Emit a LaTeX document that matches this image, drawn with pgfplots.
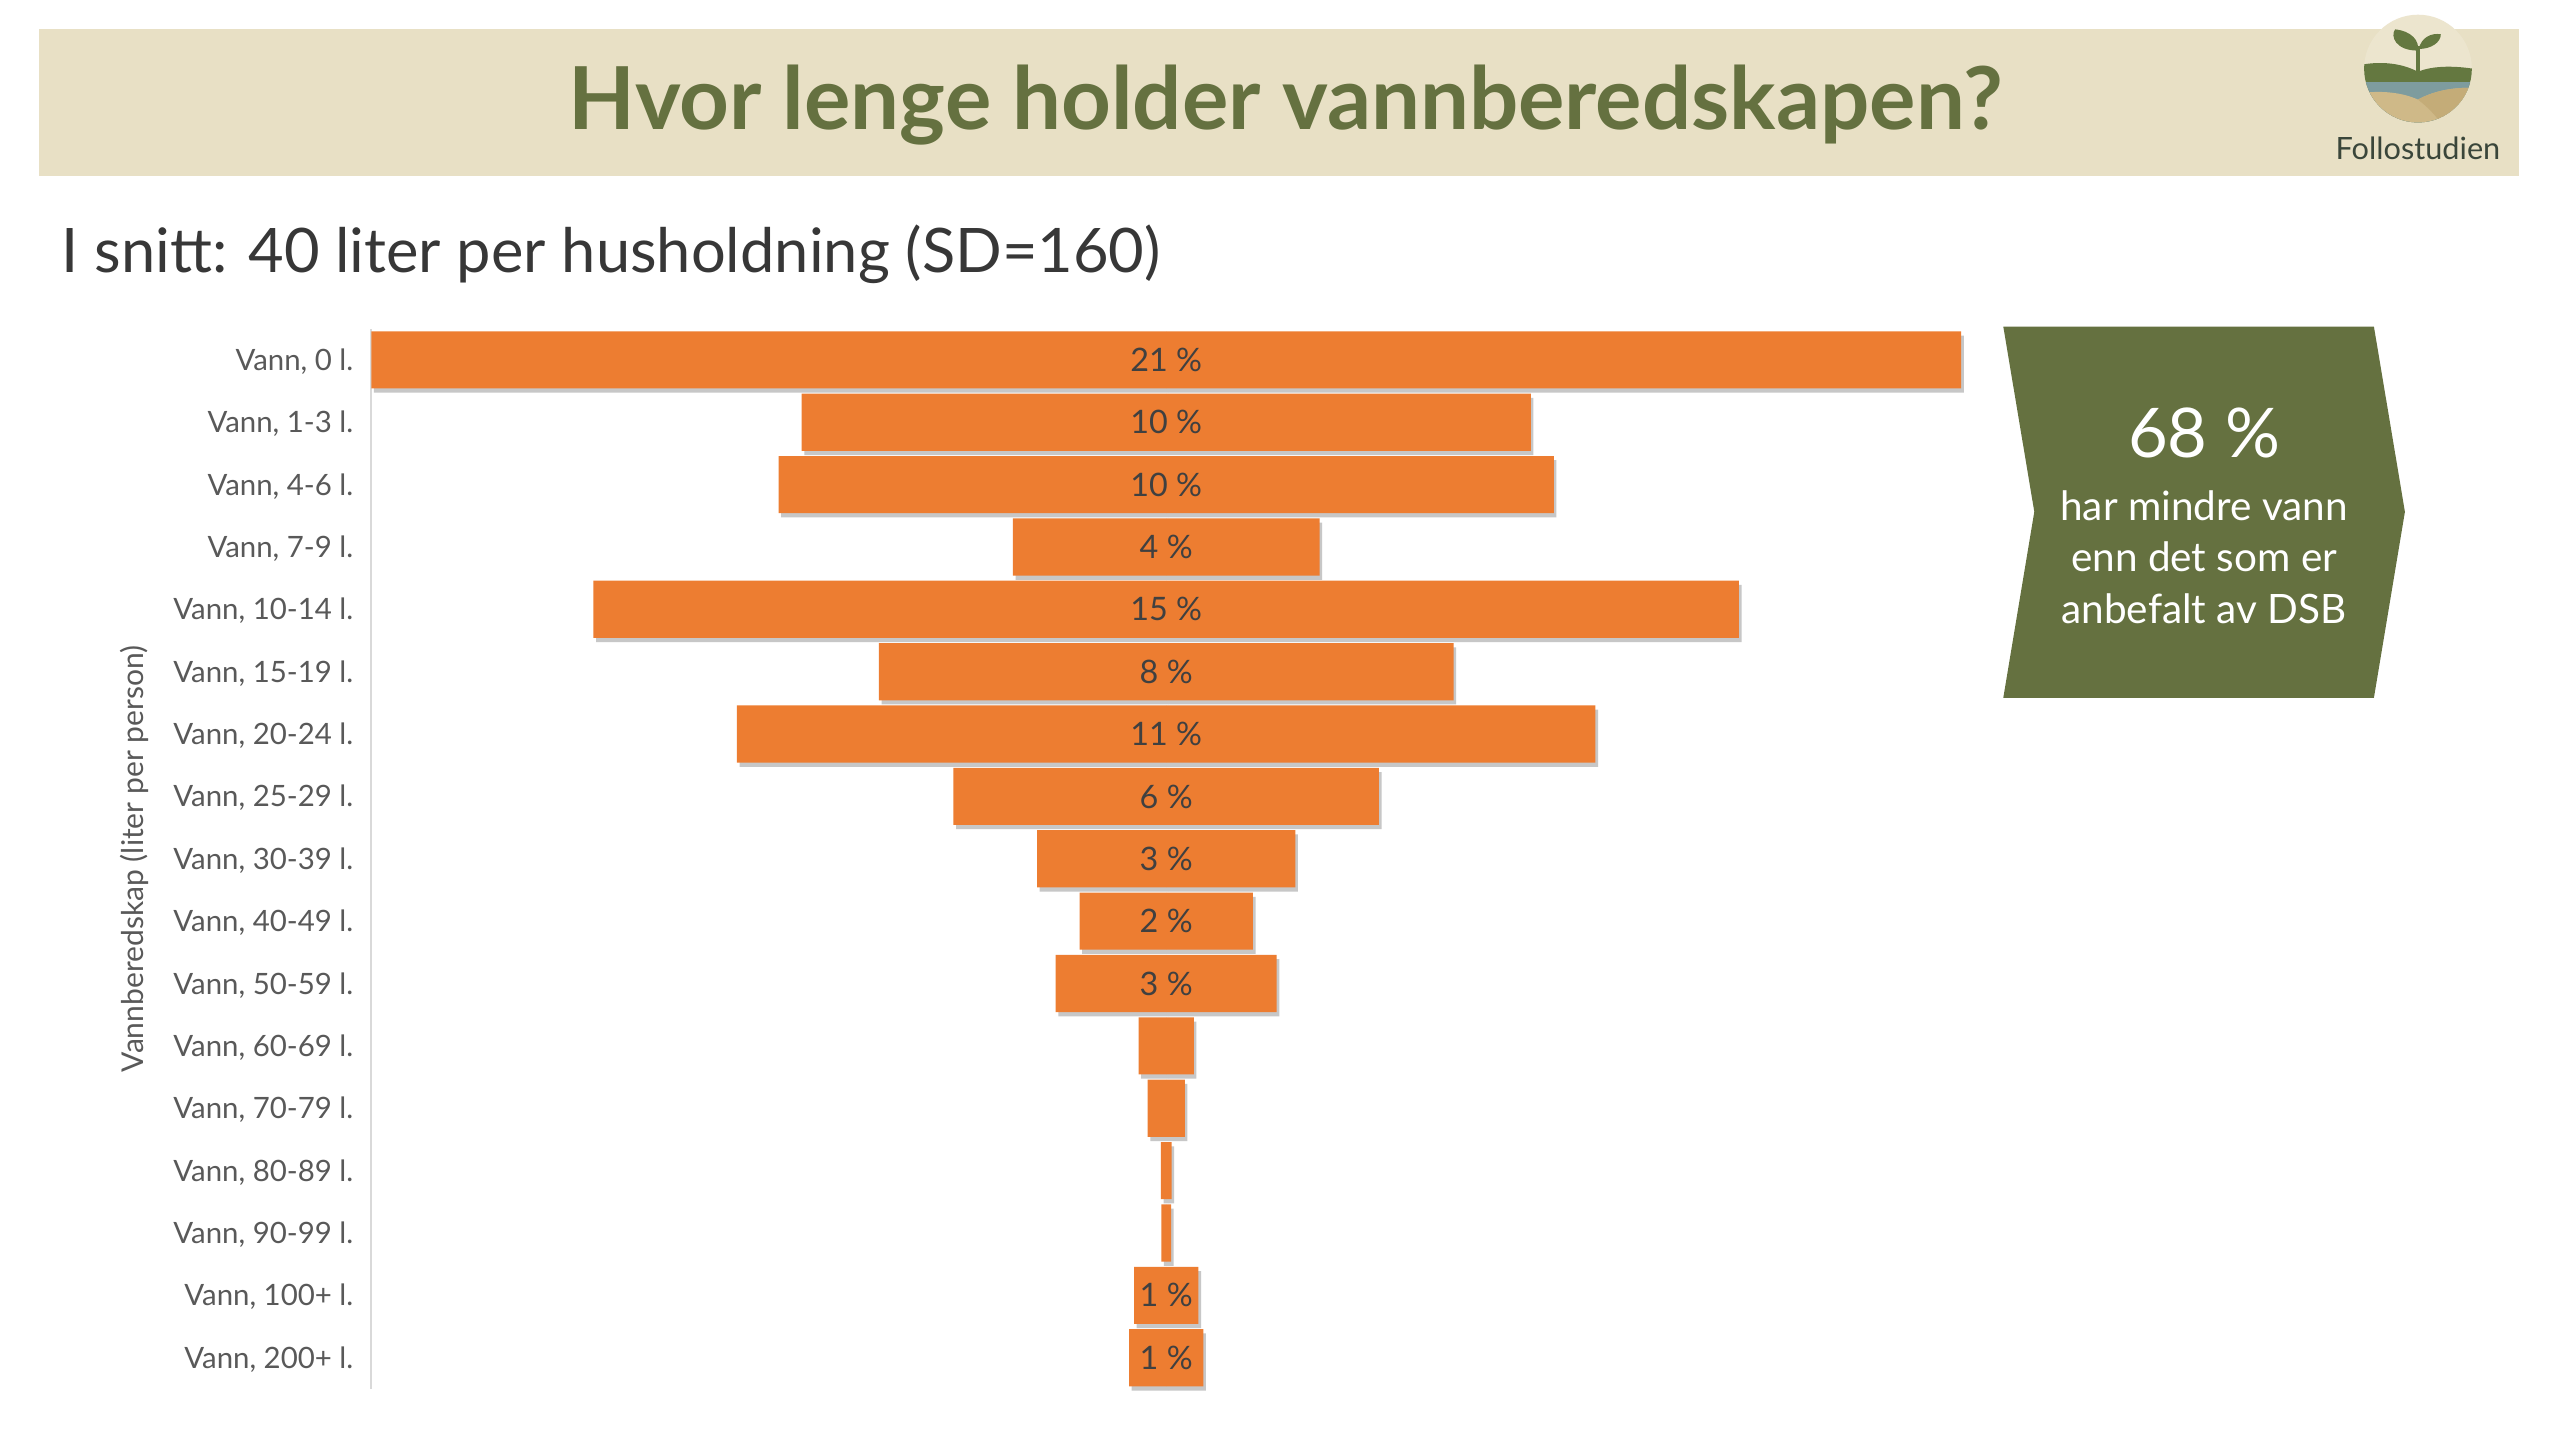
\documentclass[border=0pt]{standalone}
\usepackage{fontspec}
\setmainfont{Lato}
\usepackage{pgfplots}
\pgfplotsset{compat=1.18}
\usepackage{pgfplotstable}
\usetikzlibrary{shadows}
\definecolor{beige}{RGB}{232,224,197}
\definecolor{olive}{RGB}{101,113,64}
\definecolor{barorange}{RGB}{237,125,49}
\definecolor{lblgrey}{RGB}{89,89,89}
\definecolor{pctgrey}{RGB}{64,64,64}
\definecolor{subgrey}{RGB}{55,55,55}
\definecolor{logogreen}{RGB}{100,120,64}
\definecolor{logoblue}{RGB}{126,156,158}
\definecolor{logosand}{RGB}{207,185,136}
\definecolor{logosanddark}{RGB}{196,172,120}
\definecolor{logobg}{RGB}{236,229,206}
\definecolor{logotext}{RGB}{58,70,58}

\pgfplotstableread{
y v
16 21.00
15 9.63
14 10.24
13 4.05
12 15.13
11 7.59
10 11.34
9 5.62
8 3.41
7 2.29
6 2.92
5 0.73
4 0.49
3 0.14
2 0.13
1 0.85
0 0.98
}\bars

\pgfplotstableread{
y lab
16 21
15 10
14 10
13 4
12 15
11 8
10 11
9 6
8 3
7 2
6 3
1 1
0 1
}\labels

\begin{document}
\begin{tikzpicture}
\begin{scope}[x=0.5pt,y=-0.5pt]
\fill[white] (0,0) rectangle (1568,882);
\fill[beige] (24,18) rectangle (1543,107.8);
% logo
\fill[logobg] (1481,42) circle[radius=16.5pt];
\begin{scope}
\clip (1481,42) circle[radius=16.5pt];
\fill[logogreen] (1440,41) .. controls (1455,37) and (1470,38) .. (1481,44) .. controls (1490,40) and (1505,40) .. (1520,43) -- (1520,80) -- (1440,80) -- cycle;
\fill[logoblue] (1440,50) -- (1520,50) -- (1520,80) -- (1440,80) -- cycle;
\fill[logosand] (1440,58) .. controls (1455,55) and (1470,56) .. (1481,61) .. controls (1492,55) and (1505,53) .. (1520,54) -- (1520,80) -- (1440,80) -- cycle;
\fill[logosanddark] (1481,61) .. controls (1492,55) and (1505,53) .. (1520,54) -- (1520,80) -- (1498,80) .. controls (1492,70) and (1486,65) .. (1481,61) -- cycle;
\end{scope}
\draw[logogreen, line width=1.1pt] (1481,45) -- (1481,28);
\fill[logogreen] (1481,31) .. controls (1467,31) and (1464,22) .. (1467,18) .. controls (1477,19) and (1482,25) .. (1481,31) -- cycle;
\fill[logogreen] (1481.5,30) .. controls (1483,23) and (1489,20) .. (1495,21) .. controls (1495,26) and (1489,30) .. (1481.5,30) -- cycle;
\node[anchor=base, inner sep=0pt, text=logotext, font=\fontsize{9.4}{11}\selectfont] at (1481,98) {Follostudien};
% title
\node[anchor=base, inner sep=0pt, text=olive, font=\fontsize{26.6}{30}\selectfont\bfseries] at (787.5,79.6) {Hvor lenge holder vannberedskapen?};
\node[anchor=base west, inner sep=0pt, text=subgrey, font=\fontsize{18.8}{22}\selectfont] at (37.4,167) {I snitt: 40 liter per husholdning (SD=160)};
% box
\fill[olive] (1227,200) -- (1454,200) -- (1473,313.5) -- (1454,427.5) -- (1227,427.5) -- (1246,313.5) -- cycle;
\node[anchor=base, inner sep=0pt, text=white, font=\fontsize{21}{24}\selectfont] at (1350,280.5) {68 \%};
\node[anchor=base, inner sep=0pt, text=white, font=\fontsize{12.4}{14}\selectfont] at (1350,319) {har mindre vann};
\node[anchor=base, inner sep=0pt, text=white, font=\fontsize{12.4}{14}\selectfont] at (1350,350) {enn det som er};
\node[anchor=base, inner sep=0pt, text=white, font=\fontsize{12.4}{14}\selectfont] at (1350,381.6) {anbefalt av DSB};
\end{scope}

\begin{axis}[
  at={(113.7pt,-425.35pt)}, anchor=south west,
  scale only axis, width=486.9pt, height=324.7pt,
  xmin=-10.5, xmax=10.5, ymin=-0.5, ymax=16.5,
  enlargelimits=false, clip=false,
  axis x line=none, axis y line=left,
  y axis line style={-, draw=black!15, line width=0.6pt},
  ytick={0,...,16},
  yticklabels={{Vann, 200+ l.},{Vann, 100+ l.},{Vann, 90-99 l.},{Vann, 80-89 l.},{Vann, 70-79 l.},{Vann, 60-69 l.},{Vann, 50-59 l.},{Vann, 40-49 l.},{Vann, 30-39 l.},{Vann, 25-29 l.},{Vann, 20-24 l.},{Vann, 15-19 l.},{Vann, 10-14 l.},{Vann, 7-9 l.},{Vann, 4-6 l.},{Vann, 1-3 l.},{Vann, 0 l.}},
  major tick length=0pt, ytick style={draw=none},
  yticklabel style={font=\fontsize{9}{10}\selectfont, text=lblgrey, anchor=east, inner sep=0pt, xshift=-5.3pt, text height=6.45pt, text depth=0pt},
  ylabel={Vannberedskap (liter per person)},
  every axis y label/.style={at={(axis description cs:-0.149,0.5)}, rotate=90, anchor=center, font=\fontsize{9.2}{10}\selectfont, text=lblgrey},
]
\addplot[xbar, bar shift=0pt, bar width=17.5pt, fill=barorange, draw=none,
  drop shadow={shadow xshift=0.8pt, shadow yshift=-1.3pt, fill=black!22, opacity=1}]
  table[x expr=-\thisrow{v}/2, y=y] {\bars};
\addplot[xbar, bar shift=0pt, bar width=17.5pt, fill=barorange, draw=none,
  drop shadow={shadow xshift=0.8pt, shadow yshift=-1.3pt, fill=black!22, opacity=1}]
  table[x expr=\thisrow{v}/2, y=y] {\bars};
\addplot[draw=none, mark=none, point meta=explicit symbolic,
  nodes near coords={\pgfplotspointmeta~\%}, nodes near coords align={center},
  every node near coord/.style={font=\fontsize{9.9}{11}\selectfont, text=pctgrey, inner sep=0pt, text height=7.1pt, text depth=0pt}]
  table[x expr=0, y=y, meta=lab] {\labels};
\end{axis}
\end{tikzpicture}
\end{document}
